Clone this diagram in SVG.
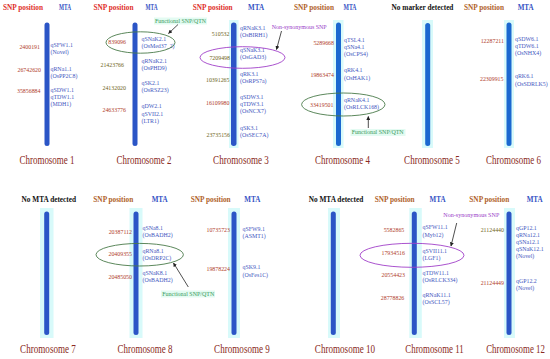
<svg xmlns="http://www.w3.org/2000/svg" width="550" height="359" viewBox="0 0 550 359">
<defs>
<style>
text{font-family:"Liberation Serif","Times New Roman",serif}
.hdr{font-weight:bold;font-size:7.3px;text-anchor:middle}
.sr{fill:#e0302a}
.sb{fill:#b0622a}
.mt{fill:#3552c4}
.nd{fill:#111}
.pos{font-size:5.9px;text-anchor:end;fill:#b03c2a}
.ol{fill:#6e6420}
.lab{font-size:5.9px;fill:#4256c0}
.chr{font-size:11.5px;fill:#8a2a22;text-anchor:middle}
.bar{fill:#2b55c6}
.bar2{fill:#1b68d0}
.glow{fill:#d8fafa}
.hl{fill:#e3fbf2}
.rg{fill:none;stroke:#4a7a4a;stroke-width:0.9}
.rp{fill:none;stroke:#a040c8;stroke-width:0.9}
.ng{font-size:5.8px;fill:#3a9a5a}
.np{font-size:5.8px;fill:#9a40c8}
.cn{stroke:#222;stroke-width:0.8;fill:none;marker-end:url(#ah)}
</style>
<marker id="ah" viewBox="0 0 10 10" refX="9" refY="5" markerWidth="4" markerHeight="4" markerUnits="userSpaceOnUse" orient="auto"><path d="M0,0L10,5L0,10z" fill="#222"/></marker>
</defs>
<rect width="550" height="359" fill="#fff"/>

<g id="chr1">
<text class="hdr sr" x="23" y="9.5" fill="#d9482b">SNP position</text>
<text class="hdr mt" x="65" y="9.5" textLength="12" lengthAdjust="spacingAndGlyphs">MTA</text>
<rect class="bar" x="44.5" y="22.5" width="5" height="123.5" rx="2.5"/>
<text class="pos" x="40" y="48.5">2400191</text>
<text class="pos" x="41" y="72">26742620</text>
<text class="pos" x="40.5" y="93">35856884</text>
<text class="lab" x="50.5" y="46.5">qSFW1.1<tspan x="50.5" dy="7.5">(Novel)</tspan></text>
<text class="lab" x="50.5" y="71">qRNa1.1<tspan x="50.5" dy="7">(OsPP2C8)</tspan></text>
<text class="lab" x="50.5" y="92">qSDW1.1<tspan x="50.5" dy="7">qTDW1.1</tspan><tspan x="50.5" dy="7">(MDH1)</tspan></text>
<text class="chr" transform="translate(47 164) scale(0.78 1)">Chromosome 1</text>
</g>

<g id="chr2">
<text class="hdr sr" x="113.5" y="9.5">SNP position</text>
<text class="hdr mt" x="151.5" y="9.5" textLength="12" lengthAdjust="spacingAndGlyphs">MTA</text>
<rect class="bar" x="132.5" y="22.5" width="5" height="123.5" rx="2.5"/>
<text class="pos" x="126" y="44">839096</text>
<text class="pos ol" x="124" y="67">21423766</text>
<text class="pos ol" x="126" y="89.5">24132020</text>
<text class="pos" x="126" y="112">24633776</text>
<text class="lab" x="141.5" y="40.5">qSNaK2.1<tspan x="141.5" dy="7">(OsMed37_2)</tspan></text>
<text class="lab" x="141.5" y="63">qRNaK2.1<tspan x="141.5" dy="7">(OsPHD9)</tspan></text>
<text class="lab" x="141.5" y="84.5">qSK2.1<tspan x="141.5" dy="7">(OsRSZ23)</tspan></text>
<text class="lab" x="141.5" y="108">qDW2.1<tspan x="141.5" dy="7.5">qSVII2.1</tspan><tspan x="141.5" dy="7.5">(LTR1)</tspan></text>
<ellipse class="rg" cx="140.5" cy="42.5" rx="34.5" ry="10.7"/>
<rect class="hl" x="154" y="17.5" width="53" height="7"/>
<text class="ng" x="155" y="22.5" textLength="51" lengthAdjust="spacingAndGlyphs">Functional SNP/QTN</text>
<text class="chr" transform="translate(144 164) scale(0.78 1)">Chromosome 2</text>
</g>

<g id="chr3">
<text class="hdr sr" x="212.7" y="9.5">SNP position</text>
<text class="hdr mt" x="256" y="9.5" textLength="16" lengthAdjust="spacingAndGlyphs">MTA</text>
<rect class="glow" x="229" y="20" width="9.5" height="128"/>
<rect class="bar" x="231" y="22.5" width="5.5" height="123.5" rx="2.7"/>
<text class="pos ol" x="229.5" y="36">510532</text>
<text class="pos ol" x="230" y="59.5">7209498</text>
<text class="pos ol" x="229.5" y="81.5">10391265</text>
<text class="pos" x="229.5" y="104.5">16109980</text>
<text class="pos ol" x="230" y="137">23735156</text>
<text class="lab" x="240" y="29.5">qRNaK3.1<tspan x="240" dy="7">(OsBIRH1)</tspan></text>
<text class="lab" x="240" y="52">qSNaK3.1<tspan x="240" dy="7">(OsGAD3)</tspan></text>
<text class="lab" x="240" y="76">qRK3.1<tspan x="240" dy="7">(OsRPS7a)</tspan></text>
<text class="lab" x="240" y="98.5">qSDW3.1<tspan x="240" dy="7">qTDW3.1</tspan><tspan x="240" dy="7">(OsNCX7)</tspan></text>
<text class="lab" x="240" y="129.5">qSK3.1<tspan x="240" dy="7">(OsSEC7A)</tspan></text>
<ellipse class="rp" cx="242.5" cy="57.5" rx="42.5" ry="10.8"/>
<text class="np" x="271.7" y="28.5" textLength="55" lengthAdjust="spacingAndGlyphs">Non-synonymous SNP</text>
<text class="chr" transform="translate(241 164) scale(0.79 1)">Chromosome 3</text>
</g>

<g id="chr4">
<text class="hdr sb" x="314" y="9.5">SNP position</text>
<text class="hdr mt" x="350" y="9.5" textLength="13" lengthAdjust="spacingAndGlyphs">MTA</text>
<rect class="glow" x="333" y="20" width="10.5" height="128"/>
<rect class="bar2" x="336" y="22.5" width="5" height="123.5" rx="2.5"/>
<text class="pos sr" x="334" y="45">5289668</text>
<text class="pos sr" x="334" y="77">19863474</text>
<text class="pos" x="333.5" y="107">33419501</text>
<text class="lab" x="344" y="41.5">qTSL4.1<tspan x="344" dy="7">qSNa4.1</tspan><tspan x="344" dy="7">(OsCPS4)</tspan></text>
<text class="lab" x="344" y="72">qRK4.1<tspan x="344" dy="7.5">(OsHAK1)</tspan></text>
<text class="lab" x="344" y="101.5">qRNaK4.1<tspan x="344" dy="7.5">(OsRLCK168)</tspan></text>
<ellipse class="rg" cx="343.3" cy="104.5" rx="41.7" ry="11.5"/>
<rect class="hl" x="350.5" y="129" width="55" height="7"/>
<text class="ng" x="351.7" y="134" textLength="52" lengthAdjust="spacingAndGlyphs">Functional SNP/QTN</text>
<text class="chr" transform="translate(342.5 164) scale(0.78 1)">Chromosome 4</text>
</g>

<g id="chr5">
<text class="hdr nd" x="422.5" y="9.5">No marker detected</text>
<rect class="glow" x="422" y="20" width="11" height="128"/>
<rect class="bar2" x="425.2" y="23" width="5" height="123" rx="2.5"/>
<text class="chr" transform="translate(432 164) scale(0.79 1)">Chromosome 5</text>
</g>

<g id="chr6">
<text class="hdr sb" x="484" y="9.5">SNP position</text>
<text class="hdr mt" x="525.7" y="9.5" textLength="16" lengthAdjust="spacingAndGlyphs">MTA</text>
<rect class="glow" x="504" y="20" width="10" height="128"/>
<rect class="bar2" x="506.5" y="22.5" width="5" height="123.5" rx="2.5"/>
<text class="pos" x="504" y="43">12287211</text>
<text class="pos" x="503.5" y="80.5">22309915</text>
<text class="lab" x="515" y="41">qSDW6.1<tspan x="515" dy="7">qTDW6.1</tspan><tspan x="515" dy="7">(OsNHX4)</tspan></text>
<text class="lab" x="515" y="78">qRK6.1<tspan x="515" dy="7.5">(OsSDRLK5)</tspan></text>
<text class="chr" transform="translate(513.5 164) scale(0.78 1)">Chromosome 6</text>
</g>

<g id="chr7">
<text class="hdr nd" x="48.8" y="201.5">No MTA detected</text>
<rect class="glow" x="40" y="208" width="13.5" height="130"/>
<rect class="bar" x="44.2" y="211.5" width="5" height="123.5" rx="2.5"/>
<text class="chr" transform="translate(48 353) scale(0.79 1)">Chromosome 7</text>
</g>

<g id="chr8">
<text class="hdr sb" x="113.3" y="201.5">SNP position</text>
<text class="hdr mt" x="159.7" y="201.5" textLength="16" lengthAdjust="spacingAndGlyphs">MTA</text>
<rect class="glow" x="129.5" y="208" width="13" height="130"/>
<rect class="bar" x="133.5" y="211.5" width="5" height="123.5" rx="2.5"/>
<text class="pos" x="132" y="234">20387112</text>
<text class="pos" x="132" y="256">20409355</text>
<text class="pos" x="132" y="279">20485050</text>
<text class="lab" x="142.5" y="230">qSNa8.1<tspan x="142.5" dy="7">(OsBADH2)</tspan></text>
<text class="lab" x="142.5" y="253">qRNa8.1<tspan x="142.5" dy="7">(OsDRP2C)</tspan></text>
<text class="lab" x="142.5" y="275">qSNaK8.1<tspan x="142.5" dy="7">(OsBADH2)</tspan></text>
<ellipse class="rg" cx="139.7" cy="254.7" rx="43.7" ry="11.3"/>
<rect class="hl" x="161" y="290.5" width="54" height="7"/>
<text class="ng" x="162.3" y="295.5" textLength="52" lengthAdjust="spacingAndGlyphs">Functional SNP/QTN</text>
<text class="chr" transform="translate(145 353) scale(0.78 1)">Chromosome 8</text>
</g>

<g id="chr9">
<text class="hdr sb" x="210.7" y="201.5">SNP position</text>
<text class="hdr mt" x="252.3" y="201.5" textLength="16" lengthAdjust="spacingAndGlyphs">MTA</text>
<rect class="glow" x="228" y="208" width="12" height="130"/>
<rect class="bar" x="231.5" y="211.5" width="5" height="123.5" rx="2.5"/>
<text class="pos" x="230" y="232">10735723</text>
<text class="pos" x="230" y="270.5">19878224</text>
<text class="lab" x="242.5" y="230.5">qSFW9.1<tspan x="242.5" dy="7.5">(ASMT1)</tspan></text>
<text class="lab" x="242.5" y="269">qSK9.1<tspan x="242.5" dy="7.5">(OsFes1C)</tspan></text>
<text class="chr" transform="translate(242 353) scale(0.79 1)">Chromosome 9</text>
</g>

<g id="chr10">
<text class="hdr nd" x="336" y="201.5">No MTA detected</text>
<rect class="glow" x="328" y="208" width="12" height="130"/>
<rect class="bar" x="330.8" y="211.5" width="5" height="123.5" rx="2.5"/>
<text class="chr" transform="translate(345 353) scale(0.79 1)">Chromosome 10</text>
</g>

<g id="chr11">
<text class="hdr sb" x="394.7" y="201.5">SNP position</text>
<text class="hdr mt" x="437.5" y="201.5" textLength="16" lengthAdjust="spacingAndGlyphs">MTA</text>
<rect class="glow" x="409.3" y="208" width="12.5" height="130"/>
<rect class="bar" x="411.8" y="211.5" width="5" height="123.5" rx="2.5"/>
<text class="pos" x="404.3" y="231.5">5582865</text>
<text class="pos" x="405" y="254.5">17934516</text>
<text class="pos" x="405" y="277">20554423</text>
<text class="pos" x="404.3" y="299.5">28778826</text>
<text class="lab" x="422.5" y="229">qSFW11.1<tspan x="422.5" dy="7.5">(Myb12)</tspan></text>
<text class="lab" x="422.5" y="252.5">qSVII11.1<tspan x="422.5" dy="7.5">(LGF1)</tspan></text>
<text class="lab" x="422.5" y="275">qTDW11.1<tspan x="422.5" dy="7">(OsRLCK334)</tspan></text>
<text class="lab" x="422.5" y="296.5">qRNaK11.1<tspan x="422.5" dy="7.5">(OsSCL57)</tspan></text>
<ellipse class="rp" cx="412" cy="255.3" rx="52" ry="12"/>
<text class="np" x="443.3" y="217" textLength="56" lengthAdjust="spacingAndGlyphs">Non-synonymous SNP</text>
<text class="chr" transform="translate(434.5 353) scale(0.77 1)">Chromosome 11</text>
</g>

<g id="chr12">
<text class="hdr sb" x="489.3" y="201.5">SNP position</text>
<text class="hdr mt" x="534.7" y="201.5" textLength="16" lengthAdjust="spacingAndGlyphs">MTA</text>
<rect class="glow" x="504" y="208" width="11" height="130"/>
<rect class="bar" x="506.5" y="211.5" width="5" height="123.5" rx="2.5"/>
<text class="pos ol" x="504" y="232">21124440</text>
<text class="pos sr" x="504" y="285">21124449</text>
<text class="lab" x="516" y="229.5">qGP12.1<tspan x="516" dy="7">qRNa12.1</tspan><tspan x="516" dy="7">qSNa12.1</tspan><tspan x="516" dy="7">qSNaK12.1</tspan><tspan x="516" dy="7">(Novel)</tspan></text>
<text class="lab" x="516" y="282.5">qGP12.2<tspan x="516" dy="7">(Novel)</tspan></text>
<text class="chr" transform="translate(515.5 353) scale(0.77 1)">Chromosome 12</text>
</g>

<g id="connectors">
<line class="cn" x1="178" y1="24.5" x2="168.5" y2="33.5"/>
<line class="cn" x1="281.5" y1="31" x2="276.5" y2="49.5"/>
<line class="cn" x1="368.3" y1="128" x2="368.3" y2="116.5"/>
<line class="cn" x1="188.3" y1="287" x2="173.5" y2="263"/>
<line class="cn" x1="456.7" y1="223" x2="451" y2="246"/>
</g>
</svg>
